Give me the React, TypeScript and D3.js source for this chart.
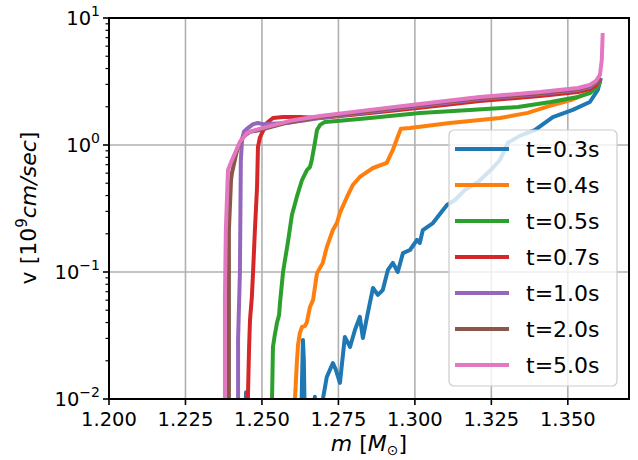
import React from "react";
import * as d3 from "d3";

const seriesLabels = ["t=0.3s", "t=0.4s", "t=0.5s", "t=0.7s", "t=1.0s", "t=2.0s", "t=5.0s"];
const colors = ["#1f77b4", "#ff7f0e", "#2ca02c", "#d62728", "#9467bd", "#8c564b", "#e377c2"];

const xTicks = [1.2, 1.225, 1.25, 1.275, 1.3, 1.325, 1.35];
const yTickExps = [-2, -1, 0, 1];

// t=0.3s
const m03 = [1.2444, 1.2448, 1.2454, 1.2628, 1.2631, 1.2634, 1.2637, 1.2641, 1.2670, 1.2673, 1.2676, 1.2696, 1.2699, 1.2712, 1.2732, 1.2742, 1.2755, 1.2771, 1.2788, 1.2804, 1.2820, 1.2830, 1.2846, 1.2863, 1.2879, 1.2895, 1.2912, 1.2928, 1.2944, 1.2961, 1.2984, 1.3007, 1.3016, 1.3026, 1.3059, 1.3092, 1.3105, 1.3131, 1.3163, 1.3206, 1.3248, 1.3278, 1.3304, 1.3343, 1.3392, 1.3451, 1.3516, 1.3572, 1.3598, 1.3608];
const v03 = [0.005, 0.0113, 0.005, 0.005, 0.0141, 0.0292, 0.0203, 0.005, 0.005, 0.0104, 0.005, 0.005, 0.0099, 0.0149, 0.0192, 0.0169, 0.0134, 0.0308, 0.0257, 0.0349, 0.0443, 0.0302, 0.0475, 0.0748, 0.066, 0.072, 0.104, 0.118, 0.1, 0.141, 0.149, 0.179, 0.169, 0.214, 0.243, 0.308, 0.337, 0.369, 0.442, 0.511, 0.635, 0.762, 1.04, 1.18, 1.31, 1.66, 1.89, 2.18, 2.71, 3.37];

// t=0.4s
const m04 = [1.2608, 1.2608, 1.2614, 1.2618, 1.2624, 1.2631, 1.2641, 1.2647, 1.2657, 1.2667, 1.2680, 1.2699, 1.2712, 1.2732, 1.2745, 1.2755, 1.2778, 1.2797, 1.2820, 1.2843, 1.2863, 1.2908, 1.2928, 1.2944, 1.2954, 1.2984, 1.3114, 1.3278, 1.3369, 1.3441, 1.3510, 1.3565, 1.3592, 1.3605];
const v04 = [0.005, 0.01, 0.0192, 0.0266, 0.0331, 0.0369, 0.0376, 0.0403, 0.053, 0.06, 0.098, 0.118, 0.157, 0.214, 0.243, 0.292, 0.39, 0.484, 0.56, 0.612, 0.659, 0.722, 0.914, 1.16, 1.34, 1.36, 1.49, 1.63, 1.79, 2.03, 2.26, 2.56, 2.81, 3.13];

// t=0.5s
const m05 = [1.2533, 1.2533, 1.2536, 1.2542, 1.2549, 1.2556, 1.2559, 1.2569, 1.2578, 1.2585, 1.2598, 1.2614, 1.2631, 1.2647, 1.2657, 1.2663, 1.2673, 1.2680, 1.2690, 1.2706, 1.2755, 1.2853, 1.3016, 1.3180, 1.3337, 1.3444, 1.3533, 1.3572, 1.3592, 1.3605];
const v05 = [0.005, 0.01, 0.0257, 0.0319, 0.0396, 0.0458, 0.057, 0.1, 0.136, 0.172, 0.281, 0.39, 0.53, 0.635, 0.671, 0.762, 1.04, 1.31, 1.44, 1.52, 1.55, 1.63, 1.79, 1.89, 1.99, 2.18, 2.39, 2.56, 2.81, 3.13];

// t=0.7s
const m07 = [1.2454, 1.2454, 1.2458, 1.2461, 1.2467, 1.2471, 1.2477, 1.2484, 1.2487, 1.2493, 1.2500, 1.2516, 1.2536, 1.2569, 1.2624, 1.2690, 1.2853, 1.3016, 1.3212, 1.3409, 1.3533, 1.3572, 1.3592, 1.3605];
const v07 = [0.005, 0.0099, 0.0257, 0.0419, 0.0635, 0.1, 0.214, 0.467, 0.964, 1.14, 1.24, 1.49, 1.63, 1.66, 1.66, 1.63, 1.79, 1.96, 2.22, 2.43, 2.61, 2.76, 2.97, 3.31];

// t=1.0s
const m10 = [1.2422, 1.2422, 1.2428, 1.2430, 1.2431, 1.2435, 1.2441, 1.2454, 1.2471, 1.2487, 1.2503, 1.2592, 1.2690, 1.2853, 1.3016, 1.3212, 1.3409, 1.3533, 1.3572, 1.3592, 1.3605];
const v10 = [0.005, 0.0292, 0.1, 0.369, 0.762, 1.09, 1.27, 1.36, 1.46, 1.49, 1.46, 1.5, 1.63, 1.82, 2.03, 2.3, 2.52, 2.71, 2.86, 3.08, 3.37];

// t=2.0s
const m20 = [1.2392, 1.2392, 1.2392, 1.2399, 1.2402, 1.2415, 1.2422, 1.2438, 1.2461, 1.2493, 1.2516, 1.2592, 1.2690, 1.2853, 1.3016, 1.3212, 1.3409, 1.3533, 1.3572, 1.3592, 1.3605];
const v20 = [0.005, 0.06, 0.214, 0.53, 0.602, 0.834, 0.964, 1.16, 1.27, 1.31, 1.36, 1.52, 1.66, 1.85, 2.07, 2.34, 2.56, 2.76, 2.92, 3.13, 3.43];

// t=5.0s
const m50 = [1.2379, 1.2379, 1.2382, 1.2389, 1.2402, 1.2412, 1.2428, 1.2451, 1.2477, 1.2516, 1.2592, 1.2690, 1.2853, 1.3016, 1.3212, 1.3409, 1.3533, 1.3572, 1.3592, 1.3605, 1.3611, 1.3614];
const v50 = [0.005, 0.06, 0.214, 0.635, 0.762, 0.865, 1.06, 1.24, 1.31, 1.39, 1.55, 1.69, 1.89, 2.1, 2.39, 2.61, 2.81, 2.97, 3.19, 3.56, 4.67, 7.62];

const seriesM = [m03, m04, m05, m07, m10, m20, m50];
const seriesV = [v03, v04, v05, v07, v10, v20, v50];

const W = 638;
const H = 460;
const left = 109;
const right = 629;
const top = 18;
const bottom = 399;
const FONT = "DejaVu Sans, sans-serif";

export default function App() {
  const x = d3.scaleLinear().domain([1.2, 1.37]).range([left, right]);
  const y = d3.scaleLog().domain([0.01, 10]).range([bottom, top]);

  const line = d3
    .line<[number, number]>()
    .x((d) => x(d[0]))
    .y((d) => y(d[1]));

  const minorTicks: number[] = [];
  for (let e = -2; e < 1; e++) {
    for (let k = 2; k <= 9; k++) minorTicks.push(k * Math.pow(10, e));
  }

  const legendX = 449;
  const legendY = 130;
  const legendW = 168;
  const legendH = 256;
  const rowH = 36;

  return (
    <svg
      width={W}
      height={H}
      style={{ position: "absolute", left: 0, top: 0, background: "#fff" }}
      fontFamily={FONT}
    >
      <defs>
        <clipPath id="plotclip">
          <rect x={left} y={top} width={right - left} height={bottom - top} />
        </clipPath>
      </defs>
      <rect x={0} y={0} width={W} height={H} fill="#fff" />
      {/* grid */}
      <g stroke="#b0b0b0" strokeWidth={1.6}>
        {xTicks.map((t) => (
          <line key={"gx" + t} x1={x(t)} x2={x(t)} y1={top} y2={bottom} />
        ))}
        {yTickExps.map((e) => (
          <line key={"gy" + e} x1={left} x2={right} y1={y(Math.pow(10, e))} y2={y(Math.pow(10, e))} />
        ))}
      </g>
      {/* lines */}
      <g clipPath="url(#plotclip)" fill="none" strokeWidth={4} strokeLinejoin="round" strokeLinecap="butt">
        {seriesM.map((ms, i) => (
          <path
            key={"s" + i}
            d={line(ms.map((m, j) => [m, seriesV[i][j]] as [number, number])) || ""}
            stroke={colors[i]}
          />
        ))}
      </g>
      {/* spines */}
      <rect x={left} y={top} width={right - left} height={bottom - top} fill="none" stroke="#000" strokeWidth={2} />
      {/* x ticks */}
      <g>
        {xTicks.map((t) => (
          <g key={"xt" + t}>
            <line x1={x(t)} x2={x(t)} y1={bottom} y2={bottom + 6} stroke="#000" strokeWidth={1.6} />
            <text x={x(t)} y={bottom + 27} textAnchor="middle" fontSize={19.5} fill="#000">
              {t.toFixed(3)}
            </text>
          </g>
        ))}
      </g>
      {/* y ticks */}
      <g>
        {yTickExps.map((e) => (
          <g key={"yt" + e}>
            <line x1={left - 6} x2={left} y1={y(Math.pow(10, e))} y2={y(Math.pow(10, e))} stroke="#000" strokeWidth={1.6} />
            <text x={100} y={y(Math.pow(10, e)) + 7} textAnchor="end" fontSize={19.5} fill="#000">
              10
              <tspan dy={-9} fontSize={14}>
                {e < 0 ? "\u2212" + Math.abs(e) : String(e)}
              </tspan>
            </text>
          </g>
        ))}
        {minorTicks.map((t) => (
          <line key={"ym" + t} x1={left - 3.5} x2={left} y1={y(t)} y2={y(t)} stroke="#000" strokeWidth={1.2} />
        ))}
      </g>
      {/* axis labels */}
      <text x={369} y={451} textAnchor="middle" fontSize={22} fill="#000">
        <tspan fontStyle="italic">m</tspan>
        <tspan> [</tspan>
        <tspan fontStyle="italic">M</tspan>
        <tspan fontSize={14} dy={4}>{"\u2299"}</tspan>
        <tspan dy={-4}>]</tspan>
      </text>
      <text transform={`translate(36,208) rotate(-90)`} textAnchor="middle" fontSize={22} fill="#000">
        <tspan>v [10</tspan>
        <tspan fontSize={15} dy={-9}>9</tspan>
        <tspan fontStyle="italic" dy={9}>cm/sec</tspan>
        <tspan>]</tspan>
      </text>
      {/* legend */}
      <g>
        <rect
          x={legendX}
          y={legendY}
          width={legendW}
          height={legendH}
          rx={5}
          fill="#fff"
          fillOpacity={0.8}
          stroke="#cccccc"
          strokeWidth={1.2}
        />
        {seriesLabels.map((lab, i) => (
          <g key={"lg" + i}>
            <line
              x1={legendX + 6}
              x2={legendX + 60}
              y1={legendY + 19 + i * rowH}
              y2={legendY + 19 + i * rowH}
              stroke={colors[i]}
              strokeWidth={4}
            />
            <text x={legendX + 77} y={legendY + 27 + i * rowH} fontSize={22} fill="#000">
              {lab}
            </text>
          </g>
        ))}
      </g>
    </svg>
  );
}
